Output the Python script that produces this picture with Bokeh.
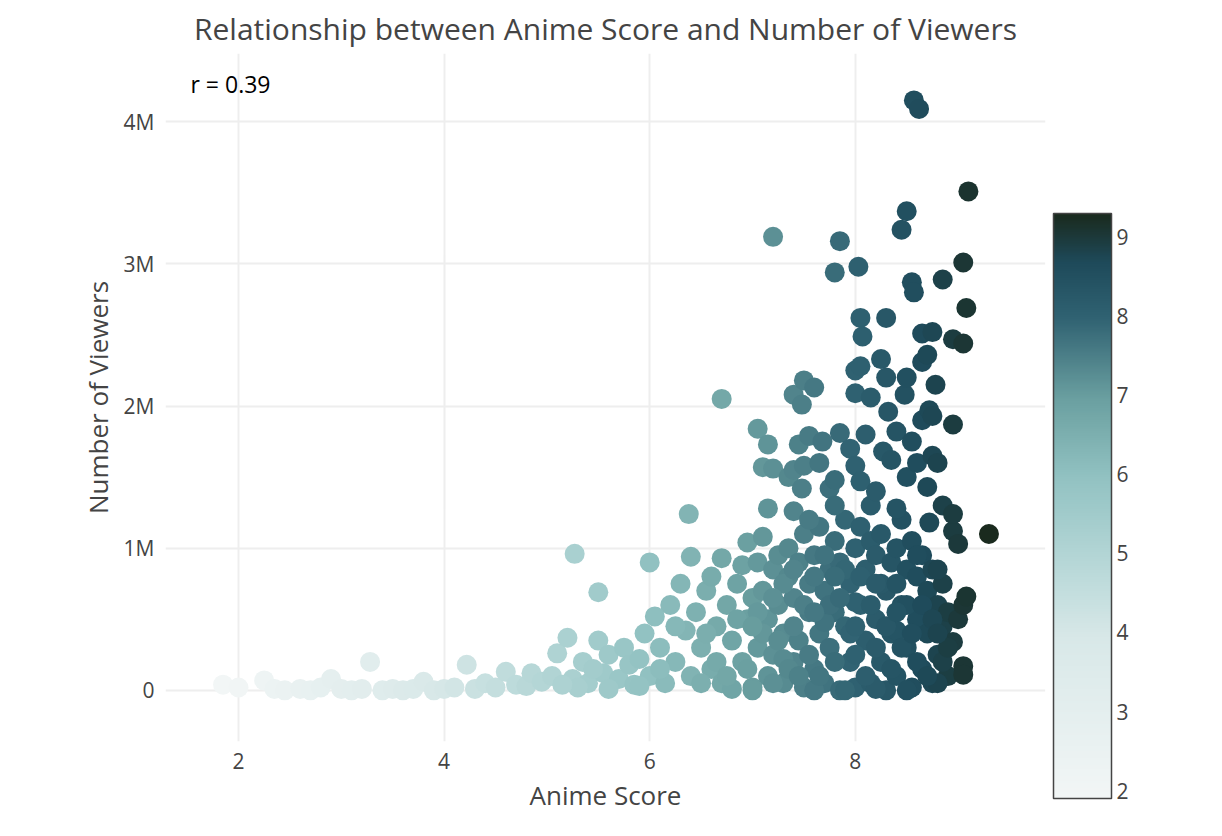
import numpy as np
from bokeh.plotting import figure
from bokeh.models import ColumnDataSource, LinearColorMapper, ColorBar, FixedTicker, Label
from bokeh.embed import file_html
from bokeh.resources import INLINE

# (score, viewers in millions), grouped by region
low_tail = [(1.85, 0.04), (2.0, 0.02), (2.25, 0.07), (2.35, 0.01), (2.45, 0.0), (2.6, 0.01), (2.7, 0.0),
            (2.8, 0.02), (2.9, 0.08), (3.0, 0.01), (3.1, 0.0), (3.2, 0.01), (3.28, 0.2), (3.4, 0.0),
            (3.5, 0.01), (3.6, 0.0), (3.7, 0.01), (3.8, 0.06), (3.9, 0.0), (4.0, 0.01), (4.1, 0.02),
            (4.22, 0.18), (4.3, 0.01), (4.4, 0.05), (4.5, 0.02), (4.6, 0.13), (4.7, 0.04), (4.8, 0.03),
            (4.85, 0.12), (4.95, 0.06), (5.05, 0.1), (5.1, 0.26), (5.2, 0.37), (5.25, 0.08), (5.27, 0.96),
            (5.35, 0.2), (5.4, 0.05), (5.5, 0.35), (5.5, 0.69), (5.55, 0.12), (5.6, 0.25), (5.7, 0.08),
            (5.75, 0.3), (5.8, 0.18), (5.85, 0.04), (5.9, 0.22), (5.95, 0.4), (6.0, 0.9), (6.0, 0.1),
            (6.05, 0.52), (6.1, 0.3), (6.15, 0.05), (6.2, 0.6), (6.25, 0.2), (6.3, 0.75), (6.35, 0.42),
            (5.3, 0.02), (5.6, 0.01), (5.9, 0.03), (6.1, 0.15), (6.25, 0.45), (5.45, 0.15), (5.15, 0.04)]
core = [(6.4, 0.94), (6.4, 0.1), (6.45, 0.55), (6.5, 0.3), (6.55, 0.7), (6.6, 0.8), (6.6, 0.15),
        (6.65, 0.45), (6.7, 0.93), (6.7, 0.05), (6.75, 0.6), (6.8, 0.35), (6.85, 0.75), (6.9, 0.88),
        (6.9, 0.2), (6.95, 1.04), (6.95, 0.5), (7.0, 0.65), (7.0, 0.02), (7.05, 0.9), (7.05, 0.3),
        (7.1, 1.08), (7.1, 0.7), (7.15, 0.1), (7.15, 0.5), (7.2, 0.85), (7.2, 0.25), (7.25, 0.95),
        (7.25, 0.6), (7.3, 0.05), (7.3, 0.4), (7.35, 0.8), (7.35, 1.0), (7.4, 0.2), (7.4, 0.65),
        (7.45, 0.9), (7.45, 0.35), (7.5, 0.02), (7.5, 1.1), (7.55, 0.55), (7.55, 0.75), (7.6, 0.15),
        (7.6, 0.95), (7.65, 0.4), (7.65, 1.15), (7.7, 0.7), (7.7, 0.05), (7.75, 0.85), (7.75, 0.3),
        (7.8, 1.05), (7.8, 0.55), (7.85, 0.0), (7.85, 0.9), (7.9, 0.45), (7.9, 1.2), (7.95, 0.2),
        (7.95, 0.75), (8.0, 1.0), (8.0, 0.02), (8.05, 0.6), (8.05, 1.15), (8.1, 0.35), (8.1, 0.85),
        (8.15, 0.05), (8.15, 1.05), (8.2, 0.5), (8.2, 0.95), (8.25, 0.2), (8.25, 1.1), (8.3, 0.7),
        (8.3, 0.0), (8.35, 0.9), (8.35, 0.4), (8.4, 1.0), (8.4, 0.1), (8.45, 0.6), (8.45, 1.2),
        (8.5, 0.3), (8.5, 0.85), (8.55, 0.02), (8.55, 1.05), (8.6, 0.5), (8.6, 0.8), (8.65, 0.15),
        (8.65, 0.95), (8.7, 0.4), (8.7, 0.7), (8.75, 0.05), (8.75, 0.85), (8.8, 0.25), (8.8, 0.6),
        (8.85, 0.45), (8.85, 0.75), (8.9, 0.1), (8.9, 0.55), (8.95, 0.34), (9.0, 0.5), (9.05, 0.17),
        (9.05, 0.11), (9.05, 0.6), (9.08, 0.66), (8.8, 0.05), (7.0, 0.0), (7.6, 0.0), (8.2, 0.01),
        (8.5, 0.0), (6.8, 0.01), (7.3, 0.22), (7.9, 0.0), (8.4, 0.42), (8.0, 0.62), (7.7, 0.48),
        (6.5, 0.05), (6.55, 0.4), (6.65, 0.2), (6.75, 0.1), (6.85, 0.5), (6.95, 0.15), (7.05, 0.55),
        (7.1, 0.4), (7.2, 0.05), (7.25, 0.35), (7.3, 0.75), (7.35, 0.15), (7.4, 0.45), (7.45, 0.1),
        (7.5, 0.6), (7.55, 0.25), (7.6, 0.8), (7.65, 0.1), (7.7, 0.95), (7.75, 0.6), (7.8, 0.2),
        (7.85, 0.65), (7.9, 0.85), (7.95, 0.4), (8.0, 0.25), (8.05, 0.8), (8.1, 0.1), (8.15, 0.6),
        (8.2, 0.3), (8.25, 0.75), (8.3, 0.45), (8.35, 0.15), (8.4, 0.75), (8.45, 0.3), (8.5, 0.6),
        (8.55, 0.4), (8.6, 0.2), (8.65, 0.6), (8.7, 0.1), (8.75, 0.5), (8.8, 0.85), (8.85, 0.2),
        (8.9, 0.3), (7.0, 0.45), (7.2, 0.65), (7.4, 0.85), (7.6, 0.55), (7.8, 0.8), (8.0, 0.45),
        (8.2, 0.75), (8.4, 0.55), (8.6, 0.95), (8.8, 0.4)]
top = [(6.38, 1.24), (6.7, 2.05), (7.05, 1.84), (7.1, 1.57), (7.15, 1.28), (7.15, 1.73),
       (7.2, 1.56), (7.2, 3.19), (7.35, 1.5), (7.4, 1.26), (7.4, 1.55), (7.4, 2.08), (7.45, 1.73),
       (7.48, 1.42), (7.48, 2.01), (7.5, 1.58), (7.5, 2.18), (7.55, 1.2), (7.55, 1.79), (7.6, 2.13),
       (7.65, 1.6), (7.68, 1.75), (7.75, 1.42), (7.8, 1.3), (7.8, 1.48), (7.8, 2.94), (7.85, 1.81),
       (7.85, 3.16), (7.95, 1.7), (8.0, 1.58), (8.0, 2.09), (8.0, 2.25), (8.03, 2.98), (8.05, 1.47),
       (8.05, 2.28), (8.05, 2.62), (8.07, 2.49), (8.1, 1.8), (8.15, 1.3), (8.15, 2.06), (8.2, 1.4),
       (8.25, 2.33), (8.27, 1.68), (8.3, 2.2), (8.3, 2.62), (8.32, 1.96), (8.35, 1.62), (8.4, 1.28),
       (8.4, 1.82), (8.45, 3.24), (8.48, 2.08), (8.5, 1.5), (8.5, 2.2), (8.5, 3.37), (8.55, 1.75),
       (8.55, 2.87), (8.57, 2.8), (8.57, 4.15), (8.6, 1.6), (8.62, 4.09), (8.65, 1.9), (8.65, 2.31),
       (8.65, 2.51), (8.7, 1.43), (8.7, 2.36), (8.72, 1.18), (8.72, 1.97), (8.75, 1.65), (8.75, 1.93),
       (8.75, 2.52), (8.78, 2.15), (8.8, 1.6), (8.85, 1.3), (8.85, 2.89), (8.95, 1.12), (8.95, 1.24),
       (8.95, 1.87), (8.95, 2.47), (9.0, 1.03), (9.05, 2.44), (9.05, 3.01), (9.08, 2.69), (9.1, 3.51),
       (9.3, 1.1)]

score_ticks = [2, 3, 4, 5, 6, 7, 8, 9]
view_ticks = [0, 1e6, 2e6, 3e6, 4e6]
view_labels = ["0", "1M", "2M", "3M", "4M"]

pts = low_tail + core + top
src = ColumnDataSource(data=dict(
    score=[s for s, v in pts],
    viewers=[v * 1e6 for s, v in pts],
))

# colour scale
anchors = [(2.0, "#f2f6f6"), (4.0, "#d8e8e8"), (5.0, "#b4d6d6"), (6.0, "#92c2c2"),
           (7.0, "#6a9fa0"), (8.0, "#306272"), (8.7, "#1e4a5a"), (9.3, "#1a2a1e")]
def hex2rgb(h):
    return [int(h[i:i + 2], 16) for i in (1, 3, 5)]
xs = np.linspace(2.0, 9.3, 256)
ax = [a[0] for a in anchors]
rgb = np.array([hex2rgb(a[1]) for a in anchors])
palette = ["#%02x%02x%02x" % tuple(int(round(np.interp(x, ax, rgb[:, k]))) for k in range(3)) for x in xs]
mapper = LinearColorMapper(palette=palette, low=1.9, high=9.3)

p = figure(width=1200, height=815, output_backend="svg", toolbar_location=None,
           x_range=(1.29, 9.85), y_range=(-360000, 4480000),
           min_border_left=165, min_border_right=155, min_border_top=10, min_border_bottom=20)
p.title.text = "Relationship between Anime Score and Number of Viewers"
p.title.align = "center"
p.title.text_font = "Open Sans"
p.title.text_font_size = "30px"
p.title.text_font_style = "normal"
p.title.text_color = "#444444"

p.scatter("score", "viewers", source=src, size=20, line_color=None,
          fill_color={"field": "score", "transform": mapper})

p.xaxis.ticker = FixedTicker(ticks=[2, 4, 6, 8])
p.yaxis.ticker = FixedTicker(ticks=view_ticks)
p.yaxis.major_label_overrides = {t: l for t, l in zip(view_ticks, view_labels)}
p.xaxis.axis_label = "Anime Score"
p.yaxis.axis_label = "Number of Viewers"
for a in (p.xaxis, p.yaxis):
    a.axis_line_color = None
    a.major_tick_line_color = None
    a.minor_tick_line_color = None
    a.major_label_text_font = "Open Sans"
    a.major_label_text_font_size = "21px"
    a.major_label_text_color = "#444444"
    a.axis_label_text_font = "Open Sans"
    a.axis_label_text_font_size = "26px"
    a.axis_label_text_font_style = "normal"
    a.axis_label_text_color = "#444444"
p.xgrid.grid_line_color = "#eeeeee"
p.ygrid.grid_line_color = "#eeeeee"
p.xgrid.grid_line_width = 2
p.ygrid.grid_line_width = 2
p.outline_line_color = None

p.add_layout(Label(x=25, y=658, x_units="screen", y_units="screen", text="r = 0.39",
                   text_font="Open Sans", text_font_size="23px", text_color="#000000",
                   text_baseline="middle"))
p.add_layout(Label(x=918, y=656, x_units="screen", y_units="screen", text="Score",
                   text_font="Open Sans", text_font_size="26px", text_color="#444444",
                   text_baseline="middle"))

cb = ColorBar(color_mapper=mapper, ticker=FixedTicker(ticks=score_ticks), width=58, height=585,
              major_label_text_font="Open Sans", major_label_text_font_size="21px",
              major_label_text_color="#444444", major_tick_line_color=None,
              bar_line_color="#444444", bar_line_width=1.5, padding=8,
              margin=20, location=(0, -65))
p.add_layout(cb, "right")

open("out.html", "w").write(file_html(p, INLINE))
